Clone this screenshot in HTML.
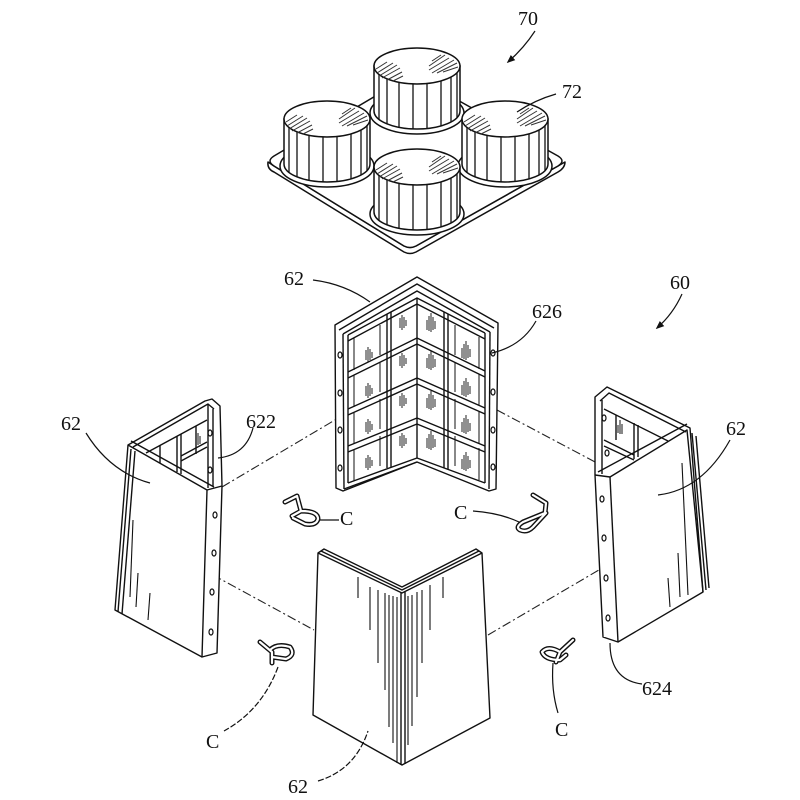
<!DOCTYPE html>
<html>
<head>
<meta charset="utf-8">
<style>
  html,body{margin:0;padding:0;background:#fff;}
  svg{display:block;}
  text{font-family:"Liberation Serif",serif;font-size:20px;fill:#111;}
</style>
</head>
<body>
<svg width="800" height="800" viewBox="0 0 800 800" xmlns="http://www.w3.org/2000/svg">
<defs>
  <marker id="arr" viewBox="0 0 10 10" refX="8" refY="5" markerWidth="7" markerHeight="7" orient="auto-start-reverse">
    <path d="M0,1 L10,5 L0,9 Z" fill="#111"/>
  </marker>
  <g id="cyl" stroke="#111" stroke-width="1.5" fill="#fff">
    <ellipse cx="0" cy="47" rx="47" ry="21"/>
    <path d="M-43,0 L-43,45 A43,18 0 0 0 43,45 L43,0 Z"/>
    <ellipse cx="0" cy="0" rx="43" ry="18"/>
    <g stroke-width="1.3" fill="none">
      <line x1="-38" y1="8.4" x2="-38" y2="53.4"/>
      <line x1="-30" y1="12.9" x2="-30" y2="57.9"/>
      <line x1="-18" y1="16.3" x2="-18" y2="61.3"/>
      <line x1="-4" y1="17.9" x2="-4" y2="62.9"/>
      <line x1="10" y1="17.5" x2="10" y2="62.5"/>
      <line x1="24" y1="14.9" x2="24" y2="59.9"/>
      <line x1="34" y1="11" x2="34" y2="56"/>
      <line x1="40" y1="6.6" x2="40" y2="51.6"/>
    </g>
    <g stroke-width="1" fill="none" stroke="#333">
      <path d="M-41,3 L-30,-4 M-40,7 L-24,-3 M-38,10 L-20,-1 M-35,12 L-17,2 M-30,14 L-15,6 M-24,15 L-14,10"/>
      <path d="M12,4 L32,-8 M15,7 L37,-6 M20,7 L40,-3 M26,6 L41,1 M12,0 L28,-11 M15,-5 L24,-11"/>
    </g>
  </g>
</defs>

<!-- ===== Tray 70 ===== -->
<g stroke="#111" stroke-width="1.5" fill="#fff" stroke-linejoin="round">
  <path d="M268,162 Q267,169 274,172 L404,252 Q410,255 416,252 L558,172 Q565,168 565,162 L558,166 L416,246 Q410,249 404,246 L274,166 Z"/>
  <path d="M274,156 L406,78 Q412,75 418,78 L558,156 Q566,161 558,166 L416,246 Q410,249 404,246 L274,166 Q266,161 274,156 Z"/>
</g>
<use href="#cyl" x="417" y="66"/>
<use href="#cyl" x="327" y="119"/>
<use href="#cyl" x="505" y="119"/>
<use href="#cyl" x="417" y="167"/>

<!-- ===== Dash-dot assembly lines ===== -->
<g stroke="#222" stroke-width="1.1" fill="none" stroke-dasharray="9 3 2 3">
  <line x1="222" y1="487" x2="340" y2="417"/>
  <line x1="497" y1="410" x2="597" y2="463"/>
  <line x1="213" y1="575" x2="314" y2="630"/>
  <line x1="488" y1="635" x2="604" y2="567"/>
</g>

<!-- ===== Back panel 62 (inside view) ===== -->
<g stroke="#111" stroke-width="1.4" fill="none" stroke-linejoin="round">
  <path fill="#fff" d="M335,325 L417,277 L498,323 L496,489 L489,491 L417,462 L343,491 L336,488 Z"/>
  <path d="M339,330 L417,284 L494,328"/>
  <path d="M343,334 L417,291 L490,332"/>
  <line x1="343" y1="334" x2="344" y2="489"/>
  <line x1="348" y1="335" x2="348" y2="483"/>
  <line x1="490" y1="332" x2="489" y2="489"/>
  <line x1="485" y1="333" x2="485" y2="483"/>
  <path d="M348,335 L417,298 L485,333"/>
  <path d="M348,483 L417,458 L485,483"/>
  <path d="M344,489 L417,462"/>
  <path d="M348,372 L417,338 L485,371"/>
  <path d="M348,378 L417,344 L485,377"/>
  <path d="M348,409 L417,378 L485,408"/>
  <path d="M348,415 L417,384 L485,414"/>
  <path d="M348,446 L417,418 L485,446"/>
  <path d="M348,452 L417,424 L485,452"/>
  <path d="M348,341 L417,304 L485,339"/>
  <line x1="387" y1="314" x2="387" y2="468"/>
  <line x1="391" y1="312" x2="391" y2="467"/>
  <line x1="417" y1="298" x2="417" y2="458"/>
  <line x1="444" y1="312" x2="444" y2="468"/>
  <line x1="448" y1="314" x2="448" y2="469"/>
  <g stroke-width="1">
    <line x1="354" y1="338" x2="354" y2="370"/><line x1="354" y1="375" x2="354" y2="407"/>
    <line x1="354" y1="412" x2="354" y2="444"/><line x1="354" y1="449" x2="354" y2="481"/>
    <line x1="380" y1="325" x2="380" y2="355"/><line x1="380" y1="362" x2="380" y2="392"/>
    <line x1="380" y1="399" x2="380" y2="429"/><line x1="380" y1="436" x2="380" y2="466"/>
    <line x1="455" y1="325" x2="455" y2="355"/><line x1="455" y1="362" x2="455" y2="392"/>
    <line x1="455" y1="399" x2="455" y2="429"/><line x1="455" y1="436" x2="455" y2="466"/>
    <line x1="479" y1="337" x2="479" y2="369"/><line x1="479" y1="374" x2="479" y2="406"/>
    <line x1="479" y1="411" x2="479" y2="443"/><line x1="479" y1="448" x2="479" y2="480"/>
  </g>
  <g stroke-width="1.2">
    <ellipse cx="340" cy="355" rx="2" ry="3"/><ellipse cx="340" cy="393" rx="2" ry="3"/>
    <ellipse cx="340" cy="430" rx="2" ry="3"/><ellipse cx="340" cy="468" rx="2" ry="3"/>
    <ellipse cx="493" cy="353" rx="2" ry="3"/><ellipse cx="493" cy="392" rx="2" ry="3"/>
    <ellipse cx="493" cy="430" rx="2" ry="3"/><ellipse cx="493" cy="467" rx="2" ry="3"/>
  </g>
</g>
<g stroke="#222" stroke-width="1" fill="none">
  <path d="M366,350 l0,10 M368,347 l0,15 M370,349 l0,11 M372,352 l0,6"/>
  <path d="M366,386 l0,10 M368,383 l0,15 M370,385 l0,11 M372,388 l0,6"/>
  <path d="M366,422 l0,10 M368,419 l0,15 M370,421 l0,11 M372,424 l0,6"/>
  <path d="M366,458 l0,10 M368,455 l0,15 M370,457 l0,11 M372,460 l0,6"/>
  <path d="M400,318 l0,10 M402,315 l0,15 M404,317 l0,11 M406,320 l0,6"/>
  <path d="M400,356 l0,10 M402,353 l0,15 M404,355 l0,11 M406,358 l0,6"/>
  <path d="M400,396 l0,10 M402,393 l0,15 M404,395 l0,11 M406,398 l0,6"/>
  <path d="M400,436 l0,10 M402,433 l0,15 M404,435 l0,11 M406,438 l0,6"/>
  <path d="M427,320 l0,10 M429,316 l0,15 M431,313 l0,19 M433,317 l0,13 M435,321 l0,8"/>
  <path d="M427,358 l0,10 M429,354 l0,15 M431,351 l0,19 M433,355 l0,13 M435,359 l0,8"/>
  <path d="M427,398 l0,10 M429,394 l0,15 M431,391 l0,19 M433,395 l0,13 M435,399 l0,8"/>
  <path d="M427,438 l0,10 M429,434 l0,15 M431,431 l0,19 M433,435 l0,13 M435,439 l0,8"/>
  <path d="M462,348 l0,10 M464,344 l0,15 M466,341 l0,19 M468,345 l0,13 M470,349 l0,8"/>
  <path d="M462,385 l0,10 M464,381 l0,15 M466,378 l0,19 M468,382 l0,13 M470,386 l0,8"/>
  <path d="M462,422 l0,10 M464,418 l0,15 M466,415 l0,19 M468,419 l0,13 M470,423 l0,8"/>
  <path d="M462,459 l0,10 M464,455 l0,15 M466,452 l0,19 M468,456 l0,13 M470,460 l0,8"/>
</g>

<!-- ===== Left panel 62 ===== -->
<g stroke="#111" stroke-width="1.4" fill="none" stroke-linejoin="round">
  <path fill="#fff" d="M128,445 L205,401 L212,399 L220,406 L222,486 L217,653 L202,657 L115,610 Z"/>
  <path d="M128,445 L207,490 L202,657"/>
  <path d="M131,441 L214,487"/>
  <path d="M207,490 L222,486"/>
  <path d="M133,447 L208,404 L214,409"/>
  <line x1="208" y1="404" x2="208" y2="488"/>
  <line x1="213" y1="409" x2="213" y2="486"/>
  <path d="M146,453 L207,420"/>
  <line x1="160" y1="445" x2="160" y2="463"/>
  <line x1="177" y1="436" x2="177" y2="472"/>
  <line x1="181" y1="434" x2="181" y2="474"/>
  <path d="M181,456 L207,442"/>
  <path d="M181,461 L207,447"/>
  <line x1="196" y1="426" x2="196" y2="454"/>
  <line x1="131" y1="449" x2="118" y2="612"/>
  <line x1="135" y1="451" x2="122" y2="614"/>
  <g stroke-width="1.1">
    <line x1="133" y1="520" x2="130" y2="597"/>
    <line x1="138" y1="573" x2="136" y2="607"/>
    <line x1="150" y1="593" x2="148" y2="620"/>
  </g>
  <g stroke-width="1.2">
    <ellipse cx="215" cy="515" rx="2" ry="3"/><ellipse cx="214" cy="553" rx="2" ry="3"/>
    <ellipse cx="212" cy="592" rx="2" ry="3"/><ellipse cx="211" cy="632" rx="2" ry="3"/>
    <ellipse cx="210" cy="433" rx="2" ry="3"/><ellipse cx="210" cy="470" rx="2" ry="3"/>
  </g>
  <path stroke-width="1" d="M196,436 l0,8 M198,433 l0,12 M200,436 l0,8"/>
</g>

<!-- ===== Right panel 62 ===== -->
<g stroke="#111" stroke-width="1.4" fill="none" stroke-linejoin="round">
  <path fill="#fff" d="M595,397 L607,387 L690,428 L703,592 L618,642 L603,637 L595,475 Z"/>
  <path d="M610,477 L687,430 L703,592"/>
  <path d="M610,477 L618,642"/>
  <path d="M595,475 L610,477"/>
  <path d="M598,472 L687,424"/>
  <path d="M600,401 L609,393 L686,432"/>
  <line x1="602" y1="400" x2="602" y2="474"/>
  <path d="M604,409 L668,441"/>
  <line x1="634" y1="423" x2="634" y2="459"/>
  <line x1="638" y1="425" x2="638" y2="457"/>
  <path d="M604,440 L634,455"/>
  <path d="M604,446 L634,460"/>
  <line x1="616" y1="415" x2="616" y2="440"/>
  <path stroke-width="1" d="M618,425 l0,8 M620,420 l0,14 M622,424 l0,10"/>
  <line x1="692" y1="433" x2="706" y2="590"/>
  <line x1="696" y1="436" x2="709" y2="588"/>
  <g stroke-width="1.1">
    <line x1="682" y1="463" x2="688" y2="595"/>
    <line x1="678" y1="553" x2="680" y2="597"/>
    <line x1="668" y1="578" x2="670" y2="607"/>
  </g>
  <g stroke-width="1.2">
    <ellipse cx="602" cy="499" rx="2" ry="3"/><ellipse cx="604" cy="538" rx="2" ry="3"/>
    <ellipse cx="606" cy="578" rx="2" ry="3"/><ellipse cx="608" cy="618" rx="2" ry="3"/>
    <ellipse cx="604" cy="418" rx="2" ry="3"/><ellipse cx="607" cy="453" rx="2" ry="3"/>
  </g>
</g>

<!-- ===== Front panel 62 ===== -->
<g stroke="#111" stroke-width="1.4" fill="none" stroke-linejoin="round">
  <path fill="#fff" d="M318,553 L324,549 L402,587 L476,549 L482,553 L490,718 L402,765 L313,715 Z"/>
  <path d="M318,553 L402,593 L482,553"/>
  <path d="M321,551 L402,590 L479,551"/>
  <line x1="401" y1="593" x2="401" y2="765"/>
  <line x1="405" y1="592" x2="405" y2="764"/>
  <g stroke-width="1.1">
    <line x1="358" y1="577" x2="358" y2="598"/>
    <line x1="370" y1="587" x2="370" y2="630"/>
    <line x1="378" y1="590" x2="378" y2="663"/>
    <line x1="385" y1="593" x2="385" y2="690"/>
    <line x1="389" y1="595" x2="389" y2="727"/>
    <line x1="393" y1="596" x2="393" y2="743"/>
    <line x1="397" y1="597" x2="397" y2="763"/>
    <line x1="408" y1="596" x2="408" y2="745"/>
    <line x1="412" y1="595" x2="412" y2="726"/>
    <line x1="417" y1="592" x2="417" y2="697"/>
    <line x1="422" y1="590" x2="422" y2="663"/>
    <line x1="430" y1="585" x2="430" y2="630"/>
    <line x1="443" y1="577" x2="443" y2="598"/>
  </g>
</g>

<!-- ===== Clips C ===== -->
<g fill="none" stroke-linecap="round" stroke-linejoin="round">
  <g stroke="#111" stroke-width="5">
    <path d="M285,502 L297,496 L301,511 L292,516 M301,511 Q318,511 318,519 Q316,526 305,524 L293,518"/>
    <path d="M533,495 L546,503 L545,513 L523,522 Q515,527 520,530 Q527,533 533,527 L546,513"/>
    <path d="M260,642 L272,652 L272,663 M270,650 Q277,643 290,647 Q296,655 286,659 L272,657"/>
    <path d="M573,640 L560,652 L556,662 M560,652 Q548,645 542,652 Q545,660 560,660 L566,655"/>
  </g>
  <g stroke="#fff" stroke-width="2.2">
    <path d="M285,502 L297,496 L301,511 L292,516 M301,511 Q318,511 318,519 Q316,526 305,524 L293,518"/>
    <path d="M533,495 L546,503 L545,513 L523,522 Q515,527 520,530 Q527,533 533,527 L546,513"/>
    <path d="M260,642 L272,652 L272,663 M270,650 Q277,643 290,647 Q296,655 286,659 L272,657"/>
    <path d="M573,640 L560,652 L556,662 M560,652 Q548,645 542,652 Q545,660 560,660 L566,655"/>
  </g>
</g>

<!-- ===== Leader lines ===== -->
<g stroke="#111" stroke-width="1.2" fill="none">
  <path d="M535,31 Q524,48 508,62" marker-end="url(#arr)"/>
  <path d="M682,294 Q673,314 657,328" marker-end="url(#arr)"/>
  <path d="M556,94 Q535,100 517,112"/>
  <path d="M313,280 Q345,284 370,302"/>
  <path d="M536,321 Q522,346 492,353"/>
  <path d="M86,433 Q110,472 150,483"/>
  <path d="M253,428 Q246,455 218,458"/>
  <path d="M730,440 Q702,490 658,495"/>
  <path d="M642,684 Q610,680 610,643"/>
  <path d="M318,781 Q355,770 368,731" stroke-dasharray="6 2"/>
  <path d="M320,520 L339,520"/>
  <path d="M473,511 Q500,513 519,522"/>
  <path d="M278,667 Q262,710 224,731" stroke-dasharray="6 2"/>
  <path d="M553,663 Q551,690 558,713"/>
</g>

<!-- ===== Labels ===== -->
<text x="518" y="25">70</text>
<text x="562" y="98">72</text>
<text x="284" y="285">62</text>
<text x="532" y="318">626</text>
<text x="670" y="289">60</text>
<text x="61" y="430">62</text>
<text x="246" y="428">622</text>
<text x="726" y="435">62</text>
<text x="642" y="695">624</text>
<text x="340" y="525">C</text>
<text x="454" y="519">C</text>
<text x="206" y="748">C</text>
<text x="555" y="736">C</text>
<text x="288" y="793">62</text>
</svg>
</body>
</html>
